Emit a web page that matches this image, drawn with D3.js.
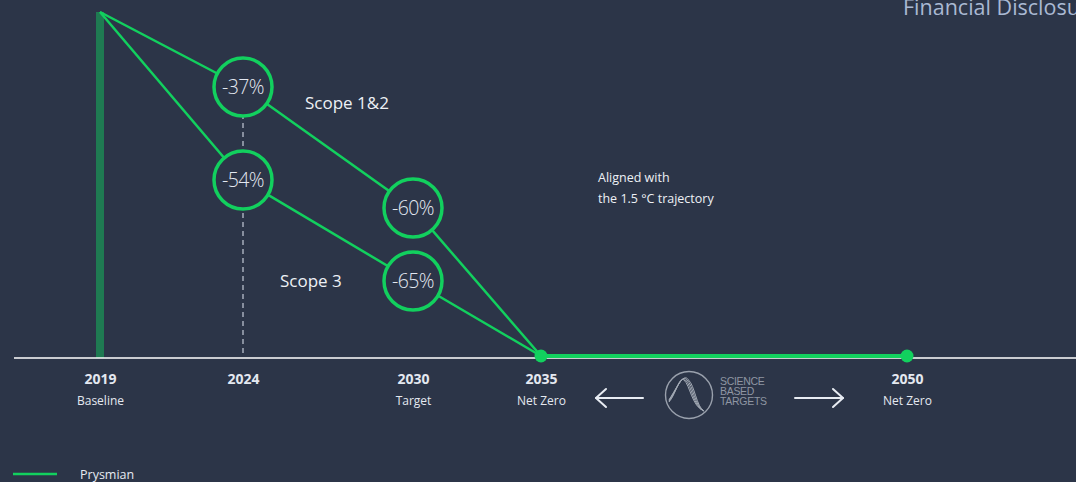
<!DOCTYPE html>
<html><head><meta charset="utf-8">
<script src="https://cdn.jsdelivr.net/npm/d3@7/dist/d3.min.js"></script>
<style>
html,body{margin:0;padding:0;background:#2c3548;overflow:hidden;}
svg{display:block;}
</style></head>
<body>
<svg id="chart" width="1076" height="482"></svg>
<script>
// ---- data ----
const years = [2019, 2024, 2030, 2035, 2050];
const yearLabels = ["2019", "2024", "2030", "2035", "2050"];
const subLabels = ["Baseline", "", "Target", "Net Zero", "Net Zero"];
const pathYears = [2019, 2024, 2030, 2035];
const scope12 = [0, -37, -60, -100];
const scope3 = [0, -54, -65, -100];
const netZeroYears = [2035, 2050];
const netZeroValues = [-100, -100];
const milestoneYears = [2024, 2024, 2030, 2030];
const milestoneValues = [-37, -54, -60, -65];
const milestoneLabels = ["-37%", "-54%", "-60%", "-65%"];

const bg = "#2c3548", green = "#12d05e", dark = "#1f7a52";
const svg = d3.select("#chart");

// schematic (non-proportional) scales, as in the original graphic
const x = d3.scaleLinear().domain(years).range([100, 243, 413, 541, 907]);
const y = d3.scaleLinear().domain([-100, -65, -60, -54, -37, 0]).range([356, 281, 208, 180, 87, 12]);

// title (cut at right edge, as in the original)
svg.append("text").attr("x", 903).attr("y", 15).attr("fill", "#aab9d3")
  .attr("font-family", "Open Sans, sans-serif").attr("font-size", 21.5).text("Financial Disclosures");

// baseline bar
svg.append("rect").attr("x", x(2019) - 4).attr("y", y(0)).attr("width", 8)
  .attr("height", 358 - y(0)).attr("fill", dark);

// axis
const axisG = svg.append("g").attr("transform", "translate(0,358)")
  .call(d3.axisBottom(x).tickValues(years).tickSize(0).tickPadding(16).tickFormat((d, i) => yearLabels[i]));
axisG.select(".domain").remove();
axisG.selectAll("text").attr("fill", "#e4e8f0").attr("font-family", "Open Sans, sans-serif")
  .attr("font-size", 14).attr("font-weight", 700);
axisG.selectAll(".tick").append("text").attr("y", 47).attr("fill", "#e4e8f0")
  .attr("font-family", "Open Sans, sans-serif").attr("font-size", 12).attr("text-anchor", "middle")
  .text((d, i) => subLabels[i]);
svg.append("line").attr("x1", 14).attr("x2", 1076).attr("y1", 358).attr("y2", 358)
  .attr("stroke", "#ffffff").attr("stroke-width", 1.5);

// dashed guide at 2024
svg.append("line").attr("x1", x(2024)).attr("x2", x(2024)).attr("y1", y(-37)).attr("y2", 357)
  .attr("stroke", "#b8bfcc").attr("stroke-width", 1.3).attr("stroke-dasharray", "5,4");

// lines
const line = d3.line().x(d => x(d[0])).y(d => y(d[1]));
[scope12, scope3].forEach(s => {
  svg.append("path").datum(pathYears.map((yr, i) => [yr, s[i]])).attr("d", line)
    .attr("fill", "none").attr("stroke", green).attr("stroke-width", 2.5);
});
svg.append("path").datum(netZeroYears.map((yr, i) => [yr, netZeroValues[i]])).attr("d", line)
  .attr("fill", "none").attr("stroke", green).attr("stroke-width", 4);
svg.selectAll(".dot").data(netZeroYears).enter().append("circle")
  .attr("cx", d => x(d)).attr("cy", y(-100)).attr("r", 6.5).attr("fill", green);

// milestone circles
const mg = svg.selectAll(".ms").data(milestoneValues).enter().append("g")
  .attr("transform", (d, i) => `translate(${x(milestoneYears[i])},${y(d)})`);
mg.append("circle").attr("r", 29).attr("fill", bg).attr("stroke", green).attr("stroke-width", 3.5);
mg.append("text").attr("text-anchor", "middle").attr("dy", "0.36em").attr("fill", "#e3e8f1")
  .attr("font-family", "Open Sans, sans-serif").attr("font-weight", 300).attr("font-size", 19.5)
  .attr("letter-spacing", -0.6).text((d, i) => milestoneLabels[i]);

// annotations
const ann = (t, xx, yy, fs) => svg.append("text").attr("x", xx).attr("y", yy).attr("fill", "#eef1f6")
  .attr("font-family", "Open Sans, sans-serif").attr("font-size", fs).text(t);
ann("Scope 1&2", 305, 109, 17);
ann("Scope 3", 280, 287, 17);
ann("Aligned with", 598, 182, 12.5);
ann("the 1.5 °C trajectory", 598, 203, 12.5);

// arrows
const arrow = (x1, x2, dir) => {
  const g = svg.append("g").attr("stroke", "#e8ecf3").attr("stroke-width", 2).attr("fill", "none")
    .attr("stroke-linecap", "round").attr("stroke-linejoin", "round");
  g.append("line").attr("x1", x1).attr("x2", x2).attr("y1", 398).attr("y2", 398);
  const tip = dir < 0 ? x1 : x2;
  g.append("path").attr("d", `M${tip - dir * 10},${389} L${tip},${398} L${tip - dir * 10},${407}`);
};
arrow(596, 643, -1);
arrow(795, 843, 1);

// SBT logo
const logo = svg.append("g").attr("transform", "translate(689,395)");
logo.append("circle").attr("r", 23.5).attr("fill", "none").attr("stroke", "#9aa1ad").attr("stroke-width", 1.4);
[0, 1.5, 3, 4.5].forEach(k => {
  logo.append("path").attr("d", `M${-20},${7 - k * 0.5} C${-13},${-1 - k} ${-10 + k},${-19 - k} ${-5 + k},${-15} C${1 + k},${-10} ${3 + k},${12} ${15},${16}`)
    .attr("fill", "none").attr("stroke", "#a3aab5").attr("stroke-width", 1);
});
["SCIENCE", "BASED", "TARGETS"].forEach((t, i) => {
  svg.append("text").attr("x", 720).attr("y", 385 + i * 10).attr("fill", "#8f96a3")
    .attr("font-family", "Liberation Sans, Arial, sans-serif").attr("font-size", 10.5)
    .attr("letter-spacing", -0.3).text(t);
});

// legend
svg.append("line").attr("x1", 13).attr("x2", 57).attr("y1", 474).attr("y2", 474)
  .attr("stroke", green).attr("stroke-width", 2.5);
svg.append("text").attr("x", 80).attr("y", 479).attr("fill", "#e6eaf1")
  .attr("font-family", "Open Sans, sans-serif").attr("font-size", 12.5).text("Prysmian");
</script>
</body></html>
